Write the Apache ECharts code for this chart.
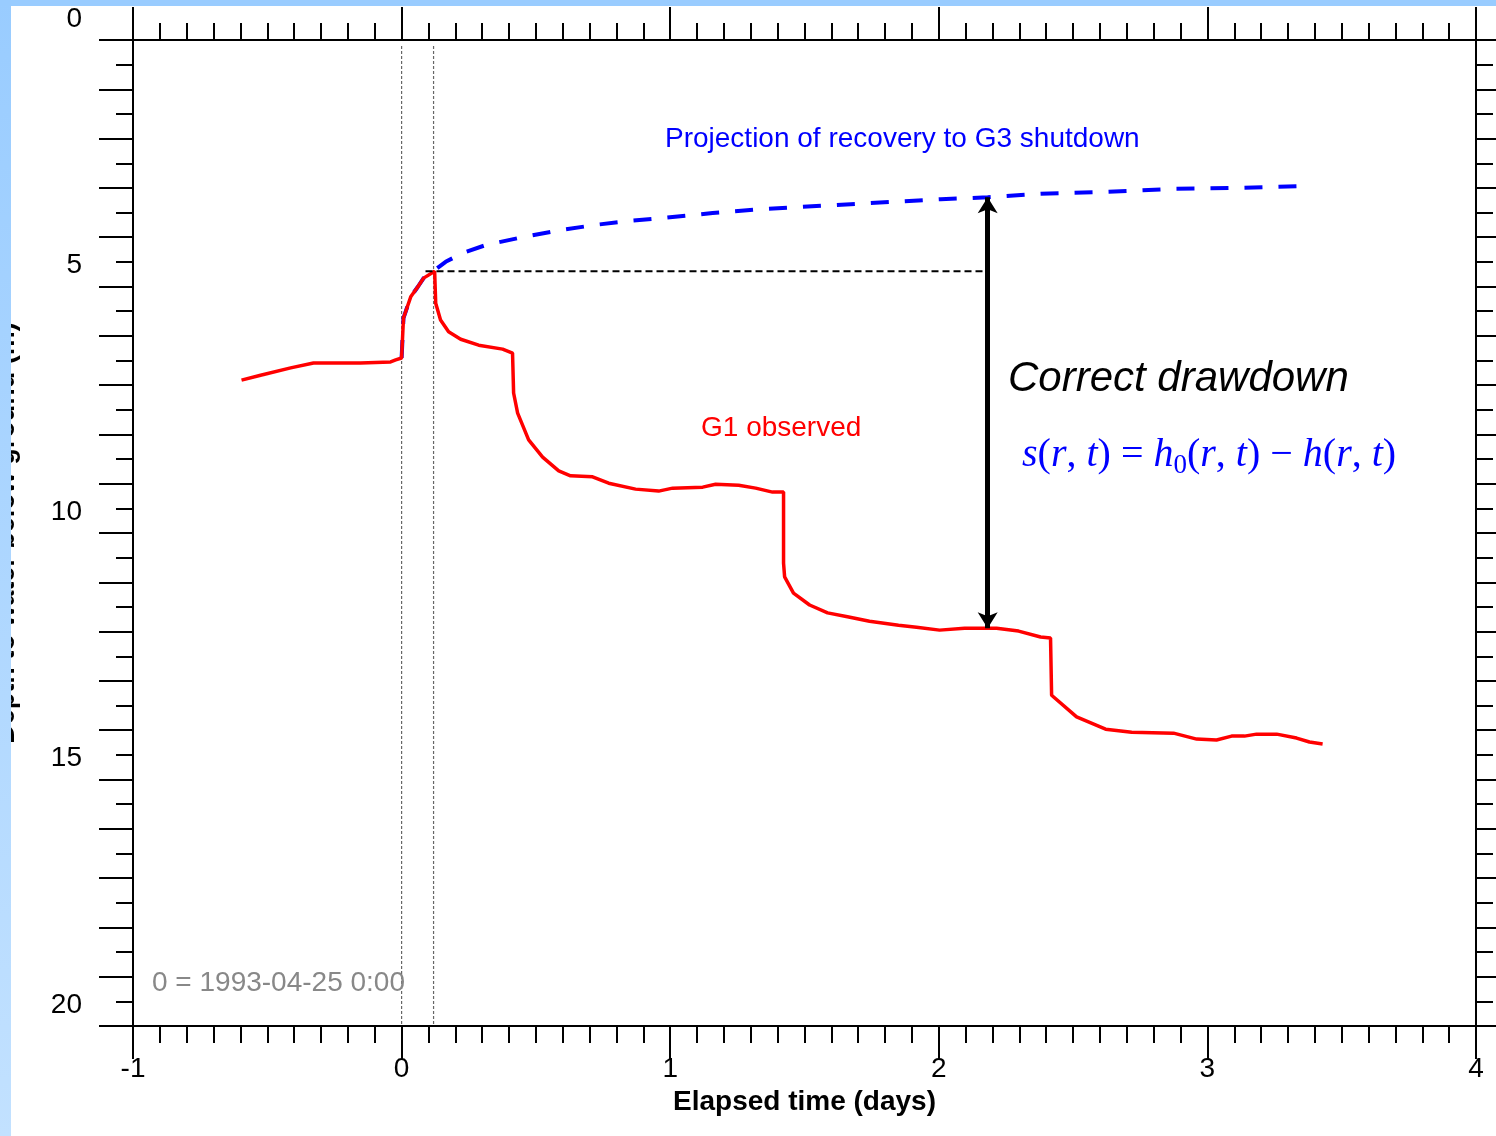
<!DOCTYPE html>
<html>
<head>
<meta charset="utf-8">
<title>G1 drawdown</title>
<script src="https://cdn.jsdelivr.net/npm/echarts@6/dist/echarts.min.js"></script>
<style>
  html, body { margin: 0; padding: 0; background: #fff; }
  #chart { width: 1496px; height: 1136px; }
</style>
</head>
<body>
<div id="chart"></div>
<script>
// G1 observed (elapsed days, depth m)
const g1Time = [-0.596, -0.525, -0.413, -0.328, -0.153, -0.041, -0.022, 0, 0.007, 0.034, 0.060, 0.082, 0.123,
  0.127, 0.145, 0.175, 0.220, 0.287, 0.376, 0.413, 0.417, 0.432, 0.473, 0.525, 0.585, 0.629, 0.711, 0.771,
  0.871, 0.957, 1.009, 1.121, 1.169, 1.255, 1.318, 1.381, 1.422, 1.422, 1.426, 1.459, 1.519, 1.586, 1.660,
  1.742, 1.850, 1.917, 2.003, 2.096, 2.182, 2.215, 2.297, 2.379, 2.416, 2.420, 2.427, 2.513, 2.621, 2.718,
  2.874, 2.960, 3.034, 3.090, 3.138, 3.183, 3.258, 3.332, 3.380, 3.429];
const g1Depth = [7.40, 7.30, 7.15, 7.05, 7.05, 7.03, 6.99, 6.95, 6.14, 5.71, 5.51, 5.33, 5.19,
  5.84, 6.18, 6.42, 6.57, 6.69, 6.77, 6.85, 7.66, 8.07, 8.61, 8.96, 9.24, 9.34, 9.36, 9.49,
  9.61, 9.65, 9.59, 9.57, 9.51, 9.53, 9.59, 9.67, 9.67, 11.11, 11.39, 11.72, 11.96, 12.12, 12.20,
  12.29, 12.37, 12.41, 12.47, 12.43, 12.43, 12.43, 12.49, 12.61, 12.63, 13.79, 13.83, 14.23, 14.48, 14.54,
  14.56, 14.68, 14.70, 14.62, 14.62, 14.58, 14.58, 14.66, 14.74, 14.78];

// projection of recovery to G3 shutdown
const projTime = [0, 0.007, 0.034, 0.060, 0.082, 0.123, 0.164, 0.227, 0.313, 0.450, 0.599, 0.722,
  0.845, 0.972, 1.158, 1.344, 1.672, 2.007, 2.182, 2.379, 2.628, 2.874, 3.124, 3.373];
const projDepth = [6.95, 6.14, 5.71, 5.51, 5.33, 5.17, 5.00, 4.82, 4.66, 4.50, 4.35, 4.25,
  4.17, 4.11, 4.01, 3.93, 3.83, 3.73, 3.69, 3.62, 3.58, 3.52, 3.50, 3.46];

// level at end of recovery (black dashed) and the drawdown arrow
const refTime = [0.089, 2.182];
const refDepth = [5.19, 5.19];
const arrowTime = [2.182, 2.182];
const arrowDepth = [3.69, 12.43];

// vertical dotted markers
const markerTimes = [0, 0.119];
const markerDepth = [0.62, 20.5];

const toPairs = (xs, ys) => xs.map((x, i) => [x, ys[i]]);

const chart = echarts.init(document.getElementById('chart'));
const font = 'Liberation Sans, Arial, sans-serif';
const black = { color: '#000', width: 2 };

const xBase = {
  type: 'value', min: -1, max: 4, interval: 1, gridIndex: 0,
  axisLine: { onZero: false, lineStyle: black },
  axisTick: { inside: false, length: 33, lineStyle: black },
  minorTick: { show: true, splitNumber: 10, length: 17, lineStyle: black },
  splitLine: { show: false },
  minorSplitLine: { show: false }
};
const yBase = {
  type: 'value', min: 0.5, max: 20.5, interval: 1, inverse: true, gridIndex: 0,
  axisLine: { onZero: false, lineStyle: black },
  axisTick: { inside: false, length: 34, lineStyle: black },
  minorTick: { show: true, splitNumber: 2, length: 17, lineStyle: black },
  axisLabel: { show: false },
  splitLine: { show: false },
  minorSplitLine: { show: false }
};

const option = {
  backgroundColor: '#fff',
  animation: false,
  textStyle: { fontFamily: font },
  grid: [
    { left: 133, right: 20, top: 40, bottom: 110, outerBoundsMode: 'none', containLabel: false },
    // only used to place the depth labels
    { left: 133, right: 20, top: 19, height: 986, outerBoundsMode: 'none', containLabel: false }
  ],
  xAxis: [
    Object.assign({}, xBase, {
      position: 'bottom',
      axisLabel: { fontSize: 28, color: '#000', margin: 29 },
      name: 'Elapsed time (days)', nameLocation: 'middle', nameGap: 62,
      nameTextStyle: { fontSize: 28, fontWeight: 'bold', color: '#000' }
    }),
    Object.assign({}, xBase, { position: 'top', axisLabel: { show: false } }),
    { type: 'value', gridIndex: 1, min: -1, max: 4, show: false }
  ],
  yAxis: [
    Object.assign({}, yBase, {
      position: 'left',
      name: 'Depth to water below ground (m)', nameLocation: 'middle', nameGap: 113,
      nameTextStyle: { fontSize: 27, fontWeight: 'bold', color: '#000' }
    }),
    Object.assign({}, yBase, { position: 'right' }),
    {
      type: 'value', gridIndex: 1, min: 0, max: 20, interval: 5, inverse: true,
      axisLine: { show: false }, axisTick: { show: false }, splitLine: { show: false },
      axisLabel: { fontSize: 28, color: '#000', margin: 51 }
    }
  ],
  series: [
    {
      name: 'Projection', type: 'line', xAxisIndex: 0, yAxisIndex: 0,
      data: toPairs(projTime, projDepth), showSymbol: false, z: 2,
      lineStyle: { color: '#0000ff', width: 4, type: [18, 16] }
    },
    {
      name: 'G1 observed', type: 'line', xAxisIndex: 0, yAxisIndex: 0,
      data: toPairs(g1Time, g1Depth), showSymbol: false, z: 3,
      lineStyle: { color: '#ff0000', width: 3.5 }
    },
    {
      name: 'Reference', type: 'line', xAxisIndex: 0, yAxisIndex: 0,
      data: toPairs(refTime, refDepth), showSymbol: false, z: 4,
      lineStyle: { color: '#000', width: 2, type: [7, 4] },
      markLine: {
        silent: true, symbol: ['arrow', 'arrow'], symbolSize: [15, 16],
        label: { show: false },
        lineStyle: { color: '#000', width: 5, type: 'solid' },
        data: [[
          { coord: [arrowTime[0], arrowDepth[0]] },
          { coord: [arrowTime[1], arrowDepth[1]] }
        ]]
      }
    }
  ].concat(markerTimes.map(t => ({
    type: 'line', xAxisIndex: 0, yAxisIndex: 0, showSymbol: false, z: 1,
    data: markerDepth.map(d => [t, d]),
    lineStyle: { color: '#666', width: 1.2, type: [3, 2] }
  }))),
  graphic: [
    {
      type: 'text', z: 50,
      style: { text: 'Projection of recovery to G3 shutdown', x: 665, y: 139, verticalAlign: 'middle',
        font: '28px ' + font, fill: '#0000ff' }
    },
    {
      type: 'text', z: 50,
      style: { text: 'Correct drawdown', x: 1008, y: 379, verticalAlign: 'middle',
        font: 'italic 42px ' + font, fill: '#000' }
    },
    {
      type: 'text', z: 50,
      style: { text: 'G1 observed', x: 701, y: 428, verticalAlign: 'middle',
        font: '28px ' + font, fill: '#ff0000' }
    },
    {
      type: 'text', z: 50,
      style: { text: '0 = 1993-04-25 0:00', x: 152, y: 983, verticalAlign: 'middle',
        font: '28px ' + font, fill: '#888' }
    },
    {
      type: 'text', z: 50,
      style: {
        x: 1022, y: 455, verticalAlign: 'middle', fill: '#0000ff',
        text: '{i|s}{u|(}{i|r}{u|, }{i|t}{u|) = }{i|h}{sub|0}{u|(}{i|r}{u|, }{i|t}{u|) − }{i|h}{u|(}{i|r}{u|, }{i|t}{u|)}',
        rich: {
          i: { fontFamily: 'Liberation Serif', fontStyle: 'italic', fontSize: 40, lineHeight: 48, fill: '#0000ff' },
          u: { fontFamily: 'Liberation Serif', fontSize: 40, lineHeight: 48, fill: '#0000ff' },
          sub: { fontFamily: 'Liberation Serif', fontSize: 27, lineHeight: 25, verticalAlign: 'bottom', fill: '#0000ff' }
        }
      }
    },
    // blue slide edges
    {
      type: 'rect', z: 100, shape: { x: 0, y: 0, width: 11, height: 1136 },
      style: { fill: new echarts.graphic.LinearGradient(0, 0, 0, 1, [
        { offset: 0, color: '#99ccff' }, { offset: 1, color: '#c2e1ff' }]) }
    },
    {
      type: 'rect', z: 100, shape: { x: 0, y: 0, width: 1496, height: 6 },
      style: { fill: '#99ccff' }
    }
  ]
};

chart.setOption(option);
</script>
</body>
</html>
